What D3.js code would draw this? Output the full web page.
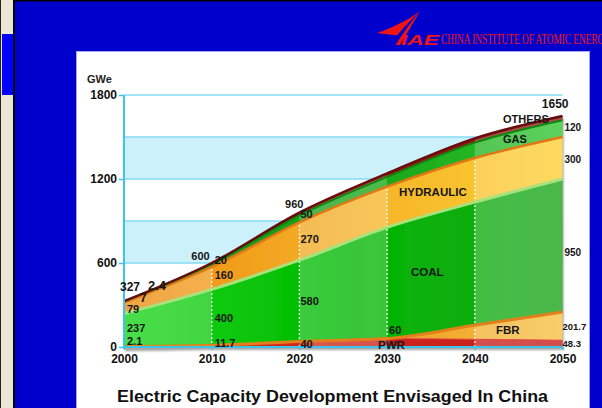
<!DOCTYPE html>
<html><head><meta charset="utf-8">
<script src="https://cdn.jsdelivr.net/npm/d3@7"></script>
<style>
html,body{margin:0;padding:0;background:#0000cc;overflow:hidden}
svg{display:block}
text{font-family:"Liberation Sans",Arial,sans-serif}
</style></head><body>
<svg id="c" width="602" height="408"></svg>
<script>
// Installed capacity by source, GWe
const years  = [2000, 2010, 2020, 2030, 2040, 2050];
const pwr    = [2.1, 11.7, 40, 60, 55, 48.3];
const fbr    = [0, 0, 0, 0, 100, 201.7];
const coal   = [237, 400, 580, 795, 880, 950];
const hydro  = [79, 160, 270, 290, 315, 300];
const gas    = [7, 20, 50, 70, 110, 120];
const others = [2.4, 8.3, 20, 25, 30, 30];
const yTicks = [0, 600, 1200, 1800];
const gridSteps = [300, 600, 900, 1200, 1500, 1800];
const shadedBands = [[0, 300], [600, 900], [1200, 1500]];
const seriesKeys = ["pwr", "fbr", "coal", "hydro", "gas", "others"];

const W = 602, H = 408;
const svg = d3.select("#c");
const defs = svg.append("defs");

// slide frame
svg.append("rect").attr("width", W).attr("height", H).attr("fill", "#0000cc");
svg.append("rect").attr("x", 0).attr("width", 14).attr("height", H).attr("fill", "#ece6d6");
svg.append("rect").attr("x", 0).attr("width", 1).attr("height", H).attr("fill", "#222");
svg.append("rect").attr("x", 2).attr("y", 34).attr("width", 11).attr("height", 61).attr("fill", "#0000ff");
svg.append("rect").attr("x", 13).attr("width", 2).attr("height", H).attr("fill", "#000");
svg.append("rect").attr("x", 13).attr("width", W).attr("height", 1.5).attr("fill", "#000");

// institute header
const logo = svg.append("g").attr("fill", "#f01414");
logo.append("path").attr("d", "M420,11 C410,19 394,27 377,33 L397,35.5 C404,27 412,19 420,11 Z");
logo.append("path").attr("d", "M420,11 C414,22 407,33 400,45 L395.5,45 C403,33 411,22 420,11 Z");
logo.append("text").attr("x", 401).attr("y", 45).attr("font-size", 14).attr("font-weight", "bold")
  .attr("font-style", "italic").attr("textLength", 38).attr("lengthAdjust", "spacingAndGlyphs").text("IAE");
svg.append("text").attr("x", 441).attr("y", 44).attr("fill", "#f01414")
  .style("font-family", "'Liberation Serif','DejaVu Serif',serif").attr("font-size", 14.5)
  .attr("textLength", 170).attr("lengthAdjust", "spacingAndGlyphs")
  .text("CHINA INSTITUTE OF ATOMIC ENERGY");

// white panel
svg.append("rect").attr("x", 76.5).attr("y", 51.5).attr("width", 513).attr("height", H)
  .attr("fill", "#fff").attr("stroke", "#a4a4f4");

// scales
const x = d3.scaleLinear().domain([2000, 2050]).range([124, 562.5]);
const y = d3.scaleLinear().domain([0, 1800]).range([347, 95]);

// background bands and grid
svg.append("g").selectAll("rect").data(shadedBands).join("rect")
  .attr("x", x(2000)).attr("width", x(2050) - x(2000))
  .attr("y", d => y(d[1])).attr("height", d => y(d[0]) - y(d[1]))
  .attr("fill", "#cdf1fb");
svg.append("g").selectAll("line").data(gridSteps).join("line")
  .attr("x1", x(2000)).attr("x2", x(2050)).attr("y1", d => y(d)).attr("y2", d => y(d))
  .attr("stroke", "#86daf2").attr("stroke-width", 1.3);

// stacked data
const table = years.map((yr, i) => ({
  year: yr, pwr: pwr[i], fbr: fbr[i], coal: coal[i], hydro: hydro[i], gas: gas[i], others: others[i]
}));
const stacked = d3.stack().keys(seriesKeys)(table);
const totals = table.map(d => seriesKeys.reduce((s, k) => s + d[k], 0));

// horizontal colour gradients
function grad(id, stops) {
  const g = defs.append("linearGradient").attr("id", id).attr("gradientUnits", "userSpaceOnUse")
    .attr("x1", x(2000)).attr("x2", x(2050)).attr("y1", 0).attr("y2", 0);
  stops.forEach(([o, c]) => g.append("stop").attr("offset", o).attr("stop-color", c));
}
grad("g-pwr", [[0, "#d8301c"], [1, "#c41c1c"]]);
grad("g-fbr", [[0, "#ee9a24"], [0.6, "#eea028"], [1, "#f6c040"]]);
grad("g-coal", [[0, "#16d616"], [0.5, "#00b800"], [1, "#18a418"]]);
grad("g-hydro", [[0, "#ee8c10"], [0.5, "#f4b028"], [1, "#fdd033"]]);
grad("g-gas", [[0, "#1d8f1d"], [0.6, "#1aa81a"], [1, "#2ec42e"]]);
grad("g-others", [[0, "#8a1010"], [1, "#961818"]]);

const fills = { pwr: "url(#g-pwr)", fbr: "url(#g-fbr)", coal: "url(#g-coal)", hydro: "url(#g-hydro)", gas: "url(#g-gas)", others: "url(#g-others)" };
const edges = {
  pwr: ["#e84040", 1], fbr: ["#e4801a", 3], coal: ["#a8e27c", 3],
  hydro: ["#e07812", 2.5], gas: ["#108810", 2], others: ["#680808", 2.5]
};

const shadow = defs.append("filter").attr("id", "sh").attr("x", "-5%").attr("y", "-5%").attr("width", "110%").attr("height", "115%");
shadow.append("feDropShadow").attr("dx", 1).attr("dy", 3).attr("stdDeviation", 1.3)
  .attr("flood-color", "#555").attr("flood-opacity", 0.55);

const area = d3.area().x(d => x(d.data.year)).y0(d => y(d[0])).y1(d => y(d[1])).curve(d3.curveMonotoneX);
const topLine = d3.line().x(d => x(d.data.year)).y(d => y(d[1])).curve(d3.curveMonotoneX);
const outline = d3.area().x((d, i) => x(years[i])).y0(y(0)).y1((d) => y(d)).curve(d3.curveMonotoneX);

const stackG = svg.append("g").attr("filter", "url(#sh)");
stackG.selectAll("path.a").data(stacked).join("path").attr("class", "a")
  .attr("d", area).attr("fill", d => fills[d.key]);

// lighter alternate decade columns
defs.append("clipPath").attr("id", "stackClip").append("path").attr("d", outline(totals));
const colStarts = years.filter((yr, i) => i % 2 === 0 && i < years.length - 1);
stackG.append("g").attr("clip-path", "url(#stackClip)").selectAll("rect").data(colStarts).join("rect")
  .attr("x", d => x(d)).attr("width", d => x(d + 10) - x(d))
  .attr("y", y(1800)).attr("height", y(0) - y(1800))
  .attr("fill", "#fff").attr("opacity", 0.22);

// dotted decade separators
const hydroTop = stacked[3];
stackG.append("g").selectAll("line").data(years.slice(1, -1)).join("line")
  .attr("x1", d => x(d)).attr("x2", d => x(d))
  .attr("y1", y(0)).attr("y2", (d, i) => y(hydroTop[i + 1][1]) + 2)
  .attr("stroke", "#fff").attr("stroke-width", 1.4).attr("stroke-dasharray", "2,2").attr("opacity", 0.85);

// layer boundary lines
stackG.selectAll("path.e").data(stacked).join("path").attr("class", "e")
  .attr("d", topLine).attr("fill", "none")
  .attr("stroke", d => edges[d.key][0]).attr("stroke-width", d => edges[d.key][1]);

// axes
const yAxis = svg.append("g").attr("transform", `translate(${x(2000)},0)`)
  .call(d3.axisLeft(y).tickValues(yTicks).tickSize(5).tickPadding(2).tickFormat(d3.format("d")));
const xAxis = svg.append("g").attr("transform", `translate(0,${y(0)})`)
  .call(d3.axisBottom(x).tickValues(years).tickSize(3).tickPadding(4).tickFormat(d3.format("d")));
[yAxis, xAxis].forEach(a => {
  a.select(".domain").attr("stroke", "#3cc4ea").attr("stroke-width", 2);
  a.selectAll(".tick line").attr("stroke", "#3cc4ea").attr("stroke-width", 1.5);
  a.selectAll("text").attr("fill", "#111").attr("font-size", 12).attr("font-weight", "bold")
    .style("font-family", "'Liberation Sans',Arial,sans-serif");
});
yAxis.select(".domain").attr("d", `M0,${y(0) + 2}V${y(1800)}`);
xAxis.select(".domain").attr("d", `M${x(2000) - 1},0H${x(2050)}`);

svg.append("text").attr("x", 87).attr("y", 83).attr("font-size", 11).attr("font-weight", "bold")
  .attr("fill", "#222").text("GWe");

// value and series annotations
const fmt = v => String(v);
const fmtTotal = v => String(Math.floor(v + 1e-6));
const labels = [
  [fmtTotal(totals[0]), x(2000) - 4, 291, "start", 12],
  [fmt(others[0]), x(2000) + 24, 290, "start", 13],
  [fmt(gas[0]), x(2000) + 16, 302, "start", 12],
  [fmt(hydro[0]), x(2000) + 3, 313, "start", 11],
  [fmt(coal[0]), x(2000) + 3, 332, "start", 11],
  [fmt(pwr[0]), x(2000) + 3, 345, "start", 11],
  [fmtTotal(totals[1]), x(2010) - 2, 260, "end", 11],
  [fmt(gas[1]), x(2010) + 3, 264, "start", 11],
  [fmt(hydro[1]), x(2010) + 3, 279, "start", 11],
  [fmt(coal[1]), x(2010) + 3, 322, "start", 11],
  [fmt(pwr[1]), x(2010) + 3, 347, "start", 11],
  [fmtTotal(totals[2]), x(2020) + 4, 208, "end", 11],
  [fmt(gas[2]), x(2020) + 1, 218, "start", 11],
  [fmt(hydro[2]), x(2020) + 1, 243, "start", 11],
  [fmt(coal[2]), x(2020) + 1, 305, "start", 11],
  [fmt(pwr[2]), x(2020) + 1, 348, "start", 11],
  [fmt(pwr[3]), x(2030) + 2, 334, "start", 11],
  ["PWR", x(2030) - 9, 349, "start", 11.5],
  ["HYDRAULIC", 399, 196, "start", 11.5],
  ["COAL", 411, 276, "start", 11.5],
  ["FBR", 496, 334, "start", 11.5],
  ["GAS", 503, 143, "start", 11],
  ["OTHERS", 503, 123, "start", 11],
  [fmtTotal(totals[5]), x(2050) + 6, 108, "end", 12],
  [fmt(gas[5]), x(2050) + 2, 131, "start", 10],
  [fmt(hydro[5]), x(2050) + 2, 163, "start", 10],
  [fmt(coal[5]), x(2050) + 2, 256, "start", 10],
  [fmt(fbr[5]), x(2050), 330, "start", 9.5],
  [fmt(pwr[5]), x(2050), 347, "start", 9.5]
];
svg.append("g").selectAll("text").data(labels).join("text")
  .attr("x", d => d[1]).attr("y", d => d[2]).attr("text-anchor", d => d[3])
  .attr("font-size", d => d[4]).attr("font-weight", "bold").attr("fill", "#151515")
  .text(d => d[0]);

// chart title
svg.append("text").attr("x", 117).attr("y", 402).attr("font-size", 17).attr("font-weight", "bold")
  .attr("fill", "#111").attr("textLength", 431).attr("lengthAdjust", "spacingAndGlyphs")
  .text("Electric Capacity Development Envisaged In China");
</script>
</body></html>
